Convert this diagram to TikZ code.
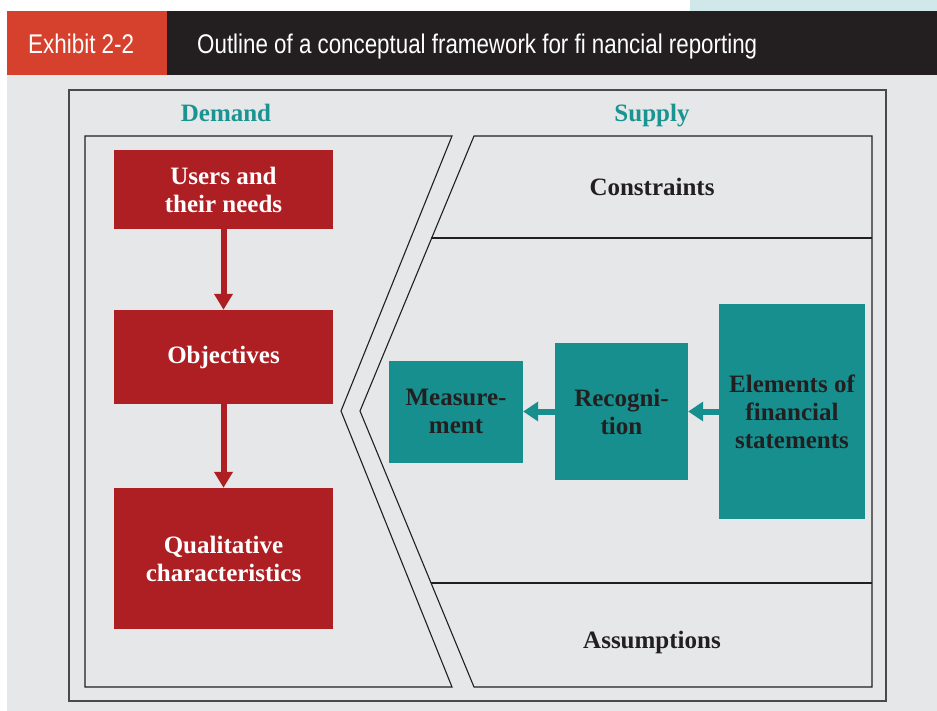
\documentclass[tikz,border=0pt]{standalone}
\usepackage{fontspec}
\setmainfont{Liberation Serif}
\newfontfamily\headfont{Liberation Sans}
\usetikzlibrary{arrows.meta}

\definecolor{exhibitred}{HTML}{D5412D}
\definecolor{headdark}{HTML}{231F20}
\definecolor{panelgray}{HTML}{E6E7E8}
\definecolor{paleteal}{HTML}{D1E8EA}
\definecolor{boxred}{HTML}{AE1F24}
\definecolor{boxteal}{HTML}{178F8E}
\definecolor{labelteal}{HTML}{1A9490}
\definecolor{inkdark}{HTML}{231F20}
\definecolor{framegray}{HTML}{4A4A4C}

% stretch a line of text horizontally to an exact width, keeping its height
\newcommand\fitwidth[2]{\begingroup\setbox0\hbox{#2}%
  \pgfmathsetmacro\fitfactor{#1/\wd0}\scalebox{\fitfactor}[1]{\box0}\endgroup}

\tikzset{
  bodyfont/.style={font=\fontsize{25}{28}\selectfont\bfseries},
  redbox/.style={fill=boxred, text=white, inner sep=0pt, align=center, bodyfont},
  tealbox/.style={fill=boxteal, text=inkdark, inner sep=0pt, align=center, bodyfont},
  sectionlabel/.style={text=inkdark, inner sep=0pt, anchor=base, bodyfont},
  sidelabel/.style={text=labelteal, inner sep=0pt, anchor=base, bodyfont},
  panelline/.style={draw=inkdark, line width=1.1pt},
  redarrow/.style={draw=boxred, line width=6pt, -{Triangle[width=18pt,length=16pt]}},
  tealarrow/.style={draw=boxteal, line width=6pt, -{Triangle[width=19pt,length=15pt]}},
  headtext/.style={text=white, inner sep=0pt, anchor=base west, font=\headfont\fontsize{27}{30}\selectfont}
}

\begin{document}
\begin{tikzpicture}[x=1pt, y=-1pt]
  \useasboundingbox (0,0) rectangle (937,711);
  \fill[white] (0,0) rectangle (937,711);

  % title band
  \fill[paleteal] (690,0) rectangle (937,11);
  \fill[exhibitred] (7,11) rectangle (167,75);
  \fill[headdark] (167,11) rectangle (937,75);
  \node[headtext] (exhibit) at (28,54) {\fitwidth{106pt}{Exhibit 2-2}};
  \node[headtext] (title) at (197,54) {\fitwidth{560pt}{Outline of a conceptual framework for fi nancial reporting}};

  % body background and outer frame
  \fill[panelgray] (7,75) rectangle (937,711);
  \draw[draw=framegray, line width=1.6pt] (69,90) rectangle (886,701);

  % demand panel with the chevron edge
  \draw[panelline] (85,136) -- (452,136) -- (341,411) -- (452,687) -- (85,687) -- cycle;
  % supply panel
  \draw[panelline] (474,136) -- (872,136) -- (872,687) -- (474,687) -- (360,411) -- cycle;
  \draw[panelline] (431,238) -- (872,238);
  \draw[panelline] (431,583) -- (872,583);

  % column headings
  \node[sidelabel] (demand) at (226,122) {Demand};
  \node[sidelabel] (supply) at (652,122) {Supply};
  \node[sectionlabel] (constraints) at (652,196) {Constraints};
  \node[sectionlabel] (assumptions) at (652,648) {Assumptions};

  % demand side
  \node[redbox, minimum width=219pt, minimum height=79pt] (users) at (223.5,189.5) {Users and\\their needs};
  \node[redbox, minimum width=219pt, minimum height=94pt] (objectives) at (223.5,357) {Objectives};
  \node[redbox, minimum width=219pt, minimum height=141pt] (qualitative) at (223.5,558.5) {Qualitative\\characteristics};
  \draw[redarrow] (users) -- (objectives);
  \draw[redarrow] (objectives) -- (qualitative);

  % supply side
  \node[tealbox, minimum width=134pt, minimum height=102pt] (measurement) at (456,411.5) {Measure-\\ment};
  \node[tealbox, minimum width=133pt, minimum height=137pt] (recognition) at (621.5,411.5) {Recogni-\\tion};
  \node[tealbox, minimum width=146pt, minimum height=214pt] (elements) at (792,411.5) {Elements of\\financial\\statements};
  \draw[tealarrow] (recognition) -- (measurement);
  \draw[tealarrow] (elements) -- (recognition);
\end{tikzpicture}
\end{document}
